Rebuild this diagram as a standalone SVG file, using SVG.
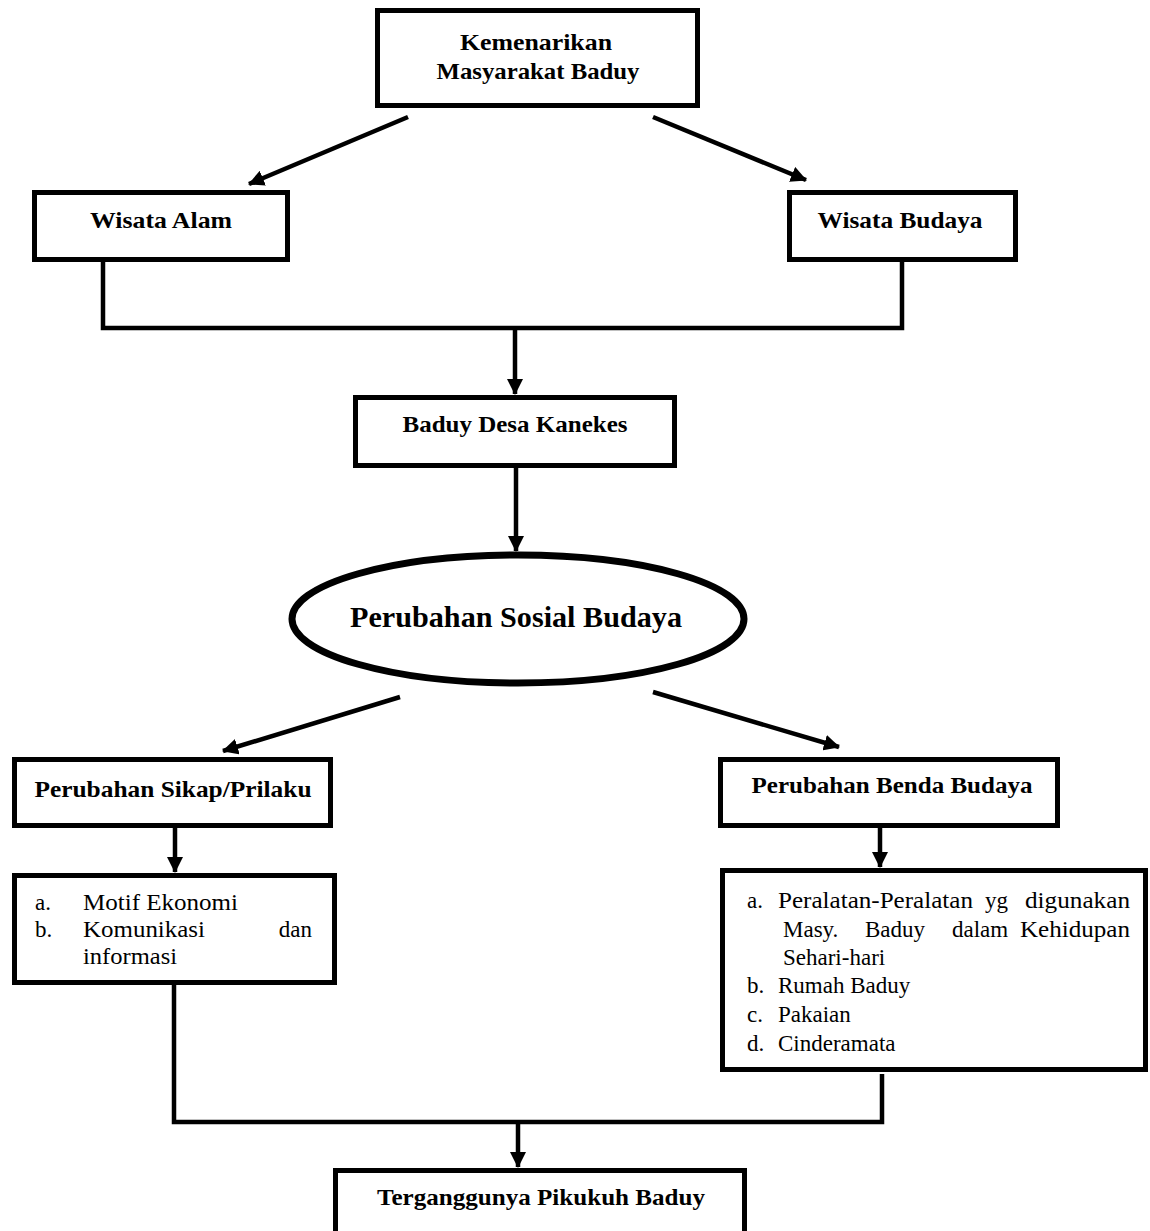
<svg xmlns="http://www.w3.org/2000/svg" width="1150" height="1231" viewBox="0 0 1150 1231">
<style>
.box{fill:#fff;stroke:#000;stroke-width:5}
.ell{fill:#fff;stroke:#000;stroke-width:7}
.h{font-family:"Liberation Serif","Times New Roman",serif;font-weight:bold;font-size:23px;fill:#000}
.big{font-family:"Liberation Serif","Times New Roman",serif;font-weight:bold;font-size:29px;fill:#000}
.t{font-family:"Liberation Serif","Times New Roman",serif;font-size:23px;fill:#000}
.c{fill:none;stroke:#000;stroke-width:4.5}
</style>
<defs>
<marker id="ah" markerUnits="userSpaceOnUse" markerWidth="16" markerHeight="16" refX="15" refY="8" orient="auto">
<path d="M0,0 L16,8 L0,16 z" fill="#000"/>
</marker>
</defs>
<rect width="1150" height="1231" fill="#fff"/>
<g id="connectors">
<path class="c" d="M408,117 L249,184" marker-end="url(#ah)"/>
<path class="c" d="M653,117 L806,180" marker-end="url(#ah)"/>
<path class="c" d="M103,262 V328 H902 V262"/>
<path class="c" d="M515,328 V394" marker-end="url(#ah)"/>
<path class="c" d="M516,468 V551" marker-end="url(#ah)"/>
<path class="c" d="M400,697 L223,751" marker-end="url(#ah)"/>
<path class="c" d="M653,692 L839,747" marker-end="url(#ah)"/>
<path class="c" d="M175,828 V872" marker-end="url(#ah)"/>
<path class="c" d="M880,828 V867" marker-end="url(#ah)"/>
<path class="c" d="M174,985 V1122 H882 V1074"/>
<path class="c" d="M518,1122 V1167" marker-end="url(#ah)"/>
</g>
<g id="kemenarikan">
<rect class="box" x="377.5" y="10.5" width="320" height="95"/>
<text class="h" x="536" y="50" text-anchor="middle" textLength="152" lengthAdjust="spacingAndGlyphs">Kemenarikan</text>
<text class="h" x="538" y="79" text-anchor="middle" textLength="203" lengthAdjust="spacingAndGlyphs">Masyarakat Baduy</text>
</g>
<g id="wisata-alam">
<rect class="box" x="34.5" y="192.5" width="253" height="67"/>
<text class="h" x="161" y="228" text-anchor="middle" textLength="142" lengthAdjust="spacingAndGlyphs">Wisata Alam</text>
</g>
<g id="wisata-budaya">
<rect class="box" x="789.5" y="192.5" width="226" height="67"/>
<text class="h" x="900" y="228" text-anchor="middle" textLength="165" lengthAdjust="spacingAndGlyphs">Wisata Budaya</text>
</g>
<g id="baduy-desa-kanekes">
<rect class="box" x="355.5" y="397.5" width="319" height="68"/>
<text class="h" x="515" y="432" text-anchor="middle" textLength="225" lengthAdjust="spacingAndGlyphs">Baduy Desa Kanekes</text>
</g>
<g id="perubahan-sosial-budaya">
<ellipse class="ell" cx="518" cy="619" rx="226" ry="64"/>
<text class="big" x="516" y="627" text-anchor="middle" textLength="332" lengthAdjust="spacingAndGlyphs">Perubahan Sosial Budaya</text>
</g>
<g id="perubahan-sikap">
<rect class="box" x="14.5" y="759.5" width="316" height="66"/>
<text class="h" x="173" y="797" text-anchor="middle" textLength="277" lengthAdjust="spacingAndGlyphs">Perubahan Sikap/Prilaku</text>
</g>
<g id="perubahan-benda">
<rect class="box" x="720.5" y="759.5" width="337" height="66"/>
<text class="h" x="892" y="793" text-anchor="middle" textLength="281" lengthAdjust="spacingAndGlyphs">Perubahan Benda Budaya</text>
</g>
<g id="list-sikap">
<rect class="box" x="14.5" y="875.5" width="320" height="107"/>
<text class="t" x="35" y="910">a.</text>
<text class="t" x="83" y="910" textLength="155" lengthAdjust="spacingAndGlyphs">Motif Ekonomi</text>
<text class="t" x="35" y="937">b.</text>
<text class="t" x="83" y="937" textLength="122" lengthAdjust="spacingAndGlyphs">Komunikasi</text>
<text class="t" x="312" y="937" text-anchor="end">dan</text>
<text class="t" x="83" y="964" textLength="94" lengthAdjust="spacingAndGlyphs">informasi</text>
</g>
<g id="list-benda">
<rect class="box" x="722.5" y="870.5" width="423" height="199"/>
<text class="t" x="747" y="908">a.</text>
<text class="t" x="778" y="908" textLength="195" lengthAdjust="spacingAndGlyphs">Peralatan-Peralatan</text>
<text class="t" x="985" y="908">yg</text>
<text class="t" x="1130" y="908" text-anchor="end" textLength="105" lengthAdjust="spacingAndGlyphs">digunakan</text>
<text class="t" x="783" y="937">Masy.</text>
<text class="t" x="865" y="937">Baduy</text>
<text class="t" x="952" y="937">dalam</text>
<text class="t" x="1130" y="937" text-anchor="end" textLength="110" lengthAdjust="spacingAndGlyphs">Kehidupan</text>
<text class="t" x="783" y="965">Sehari-hari</text>
<text class="t" x="747" y="993">b.</text>
<text class="t" x="778" y="993">Rumah Baduy</text>
<text class="t" x="747" y="1022">c.</text>
<text class="t" x="778" y="1022">Pakaian</text>
<text class="t" x="747" y="1051">d.</text>
<text class="t" x="778" y="1051">Cinderamata</text>
</g>
<g id="terganggunya">
<rect class="box" x="335.5" y="1170.5" width="409" height="70"/>
<text class="h" x="541" y="1205" text-anchor="middle" textLength="328" lengthAdjust="spacingAndGlyphs">Terganggunya Pikukuh Baduy</text>
</g>
</svg>
